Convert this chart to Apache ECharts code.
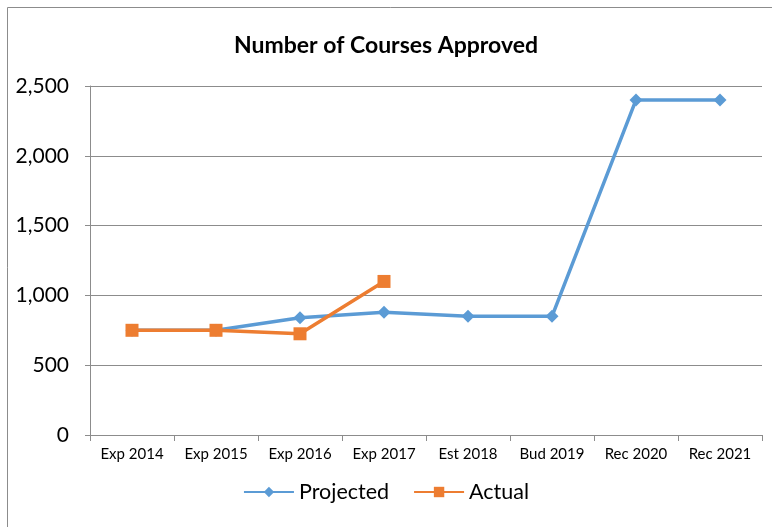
<!DOCTYPE html>
<html>
<head>
<meta charset="utf-8">
<script src="https://cdn.jsdelivr.net/npm/echarts@6/dist/echarts.min.js"></script>
<style>
  html, body { margin: 0; padding: 0; background: #fff; }
  #chart { width: 772px; height: 527px; }
</style>
</head>
<body>
<div id="chart"></div>
<script>
const categories = ["Exp 2014", "Exp 2015", "Exp 2016", "Exp 2017", "Est 2018", "Bud 2019", "Rec 2020", "Rec 2021"];
const projected = [750, 750, 840, 880, 850, 850, 2400, 2400];
const actual = [750, 750, 725, 1100, null, null, null, null];
const yTicks = [0, 500, 1000, 1500, 2000, 2500];

const chart = echarts.init(document.getElementById("chart"));
const font = "Lato, 'Open Sans', sans-serif";

const option = {
  animation: false,
  textStyle: { fontFamily: font },
  graphic: [{
    type: "rect",
    shape: { x: 7.5, y: 7.5, width: 800, height: 600 },
    style: { fill: null, stroke: "#8c8c8c", lineWidth: 1 },
    silent: true
  }],
  title: {
    text: "Number of Courses Approved",
    left: "center",
    top: 29,
    textStyle: { fontFamily: font, fontSize: 23, fontWeight: "bold", color: "#000" }
  },
  legend: {
    bottom: 19,
    left: "center",
    itemWidth: 50,
    itemHeight: 13,
    itemGap: 24,
    textStyle: { fontFamily: font, fontSize: 21.5, color: "#000" },
    data: ["Projected", "Actual"]
  },
  grid: { left: 90, right: 10, top: 86, bottom: 92 },
  xAxis: {
    type: "category",
    data: categories,
    boundaryGap: true,
    axisLine: { lineStyle: { color: "#8c8c8c" } },
    axisTick: { show: true, length: 6, lineStyle: { color: "#8c8c8c" } },
    axisLabel: { color: "#000", fontSize: 15, margin: 12, interval: 0, fontFamily: font }
  },
  yAxis: {
    type: "value",
    min: 0,
    max: 2500,
    interval: 500,
    axisLine: { show: true, lineStyle: { color: "#8c8c8c" } },
    axisTick: { show: true, length: 5, lineStyle: { color: "#8c8c8c" } },
    splitLine: { lineStyle: { color: "#8c8c8c" } },
    axisLabel: {
      color: "#000",
      fontSize: 21,
      margin: 21,
      fontFamily: font,
      formatter: v => yTicks.includes(v) ? v.toLocaleString("en-US") : ""
    }
  },
  series: [
    {
      name: "Projected",
      type: "line",
      data: projected,
      symbol: "diamond",
      symbolSize: 13,
      lineStyle: { color: "#5b9bd5", width: 3.5 },
      itemStyle: { color: "#5b9bd5" }
    },
    {
      name: "Actual",
      type: "line",
      data: actual,
      symbol: "rect",
      symbolSize: 13,
      lineStyle: { color: "#ed7d31", width: 3.5 },
      itemStyle: { color: "#ed7d31" }
    }
  ]
};

chart.setOption(option);
</script>
</body>
</html>
